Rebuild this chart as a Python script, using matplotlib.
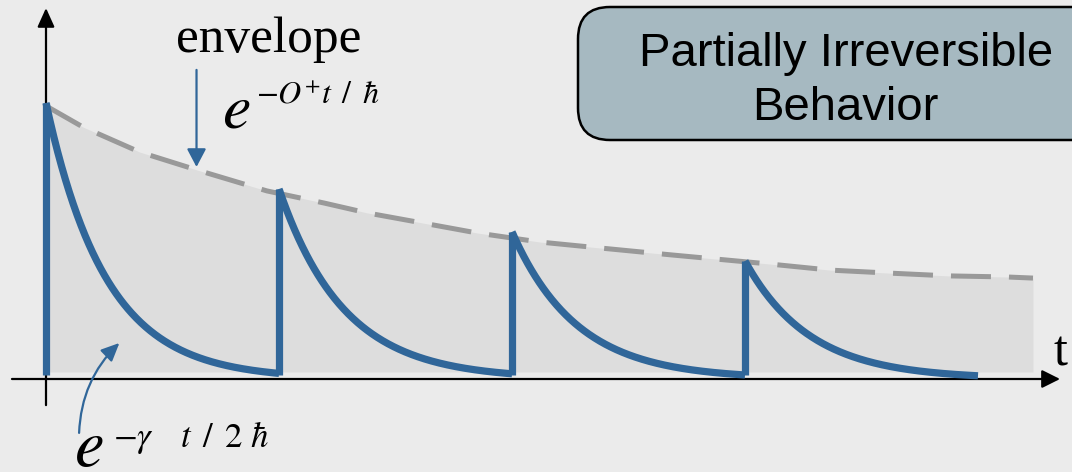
import numpy as np
import matplotlib
matplotlib.use('Agg')
import matplotlib.pyplot as plt
from matplotlib.patches import FancyBboxPatch
import matplotlib.transforms as mtransforms

# ---------------- data (time in pulse periods, amplitude relative to first peak) ----
pulse_starts = [0.0, 1.0, 2.0, 3.0]
pulse_peaks = [1.004, 0.691, 0.535, 0.429]
decay_rates = [3.9, 3.6, 3.6, 3.6]          # gamma/2hbar, per period
pulse_length = 1.0
bar_bottom = 0.015

env_t = [0.0, 0.159, 0.403, 0.648, 0.948, 1.193, 1.378, 1.618, 1.85, 2.12,
         2.335, 2.687, 3.107, 3.365, 3.622, 3.871, 4.124, 4.236]
env_a = [0.993, 0.916, 0.825, 0.76, 0.684, 0.64, 0.604, 0.567, 0.531, 0.498,
         0.48, 0.451, 0.418, 0.396, 0.385, 0.375, 0.371, 0.367]
fill_bottom = 0.0255

title_lines = ["Partially Irreversible", "Behavior"]
env_label = "envelope"
axis_label = "t"

# ---------------- style -------------------------------------------------------------
BG = '#ebebeb'
FILL = '#dddddd'
BLUE = '#306699'
GREY = '#999999'
BOX = '#a6b9c1'
W, H = 1072, 472

plt.rcParams['mathtext.fontset'] = 'stix'
fig = plt.figure(figsize=(W / 100, H / 100), dpi=100)
fig.patch.set_facecolor(BG)
ax = fig.add_axes([0, 0, 1, 1])
ax.set_facecolor(BG)
ax.axis('off')

# pixel <-> data mapping: x_px = 46 + 233 t ; y_px = 379 - 275 a
ax.set_xlim((0 - 46) / 233, (W - 46) / 233)
ax.set_ylim((379 - H) / 275, 379 / 275)
P = mtransforms.Affine2D().scale(1 / W, -1 / H).translate(0, 1) + fig.transFigure

# filled region under envelope
ax.fill_between(env_t, fill_bottom, env_a, color=FILL, lw=0, zorder=1)

# axes arrows
ax.annotate('', xy=(4.352, 0), xytext=(-0.146, 0),
            arrowprops=dict(arrowstyle='-|>,head_length=1.1,head_width=0.55',
                            mutation_scale=10, color='black', lw=1.6,
                            shrinkA=0, shrinkB=0), zorder=2)
ax.annotate('', xy=(0, 1.349), xytext=(0, -0.095),
            arrowprops=dict(arrowstyle='-|>,head_length=1.15,head_width=0.52',
                            mutation_scale=10, color='black', lw=1.6,
                            shrinkA=0, shrinkB=0), zorder=2)

# envelope (dashed)
ax.plot(env_t, env_a, color=GREY, lw=3.6, dashes=(8, 3.6), solid_capstyle='butt',
        dash_capstyle='butt', zorder=3)

# pulses
for t0, pk, r in zip(pulse_starts, pulse_peaks, decay_rates):
    ax.plot([t0, t0], [bar_bottom, pk], color=BLUE, lw=5.2, solid_capstyle='butt', zorder=4)
    tt = np.linspace(t0, t0 + pulse_length, 300)
    ax.plot(tt, pk * np.exp(-r * (tt - t0)), color=BLUE, lw=5.2,
            solid_capstyle='butt', zorder=4)

# envelope pointer arrow
ax.annotate('', xy=(0.646, 0.771), xytext=(0.646, 1.124),
            arrowprops=dict(arrowstyle='-|>,head_length=1.1,head_width=0.58',
                            mutation_scale=10, color=BLUE, lw=1.6,
                            shrinkA=0, shrinkB=0), zorder=5)
# curved arrow to decay
ax.annotate('', xy=(0.315, 0.131), xytext=(0.142, -0.196),
            arrowprops=dict(arrowstyle='-|>,head_length=1.1,head_width=0.5',
                            mutation_scale=10, color=BLUE, lw=1.6,
                            connectionstyle='arc3,rad=-0.2',
                            shrinkA=0, shrinkB=0), zorder=5)

# texts
ax.text(176, 52, env_label, transform=P, fontsize=37, family='Liberation Serif',
        ha='left', va='baseline')
ax.text(222, 128, r'$e$', transform=P, fontsize=46, ha='left', va='baseline')
ax.text(256, 103, r'$-O^{+}t\ \,/\ \,\hbar$', transform=P, fontsize=23, ha='left',
        va='baseline')
ax.text(74, 466, r'$e$', transform=P, fontsize=48, ha='left', va='baseline')
ax.text(113, 447, r'$-\gamma\;\;\;\ t\ \,/\ \,2\ \hbar$', transform=P, fontsize=25,
        ha='left', va='baseline')
ax.text(1054, 365, axis_label, transform=P, fontsize=36, family='Liberation Serif',
        ha='left', va='baseline')

# title box
box = FancyBboxPatch((578, 7), 560, 133, boxstyle='round,pad=0,rounding_size=32',
                     transform=P, facecolor=BOX, edgecolor='black', lw=1.8, zorder=6)
ax.add_patch(box)
ax.text(846, 66, title_lines[0], transform=P, fontsize=34, family='Liberation Sans',
        ha='center', va='baseline', zorder=7)
ax.text(845, 120, title_lines[1], transform=P, fontsize=34, family='Liberation Sans',
        ha='center', va='baseline', zorder=7)

fig.savefig('out.png', dpi=100, facecolor=BG)
